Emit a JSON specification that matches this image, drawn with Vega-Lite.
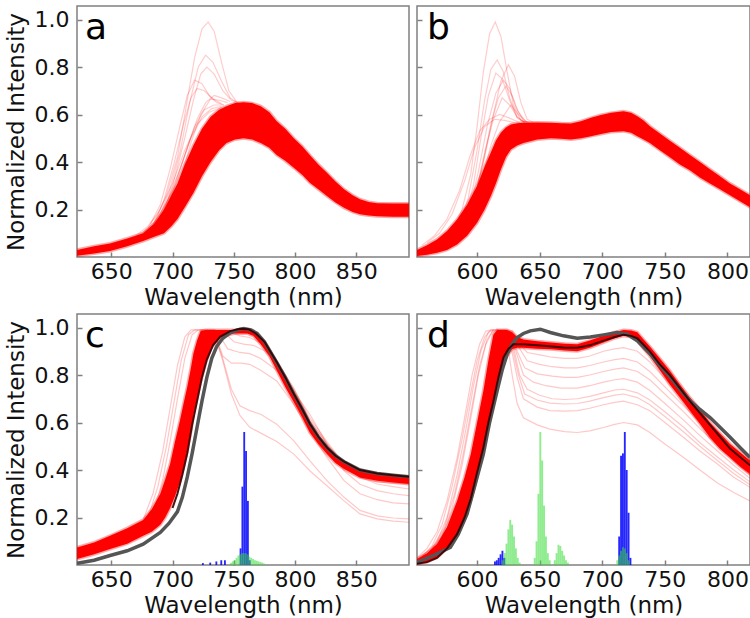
{
"$schema":"https://vega.github.io/schema/vega-lite/v6.json",
"autosize":{"type":"pad"},
"padding":{"left":4,"top":5,"right":0,"bottom":0},
"background":"white",
"config":{
 "view":{"stroke":"#808080","strokeWidth":1.5},
 "axis":{"grid":false,"domain":false,"tickColor":"#808080","tickSize":-5,"tickWidth":1.5,"labelFont":"DejaVu Sans","labelFontSize":22,"labelColor":"#111111","titleFont":"DejaVu Sans","titleFontSize":23,"titleFontWeight":"normal","titleColor":"#111111","labelOverlap":false,"labelFlush":false},
 "axisX":{"labelPadding":9,"titlePadding":4},
 "axisY":{"labelPadding":13,"titlePadding":6}
},
"columns":2,
"spacing":{"row":57,"column":8},
"bounds":"flush",
"concat":[
{"width":332,"height":251,
 "encoding":{
  "x":{"field":"x","type":"quantitative","scale":{"domain":[622,893],"nice":false,"zero":false},"axis":{"values":[650,700,750,800,850],"format":"d","title":"Wavelength (nm)"}},
  "y":{"field":"y","type":"quantitative","scale":{"domain":[0,1.057],"nice":false,"zero":false},"axis":{"values":[0.2,0.4,0.6,0.8,1.0],"format":".1f","title":"Normalized Intensity"}}},
 "layer":[
  {"data":{"values":[
   {"x":622,"y":0.005,"y2":0.03},{"x":636,"y":0.015,"y2":0.045},{"x":649,"y":0.025,"y2":0.057},{"x":663,"y":0.045,"y2":0.078},{"x":676,"y":0.067,"y2":0.10},{"x":685,"y":0.085,"y2":0.14},{"x":693,"y":0.10,"y2":0.20},{"x":699,"y":0.13,"y2":0.26},{"x":704,"y":0.16,"y2":0.31},{"x":710,"y":0.21,"y2":0.39},{"x":717,"y":0.27,"y2":0.47},{"x":724,"y":0.34,"y2":0.54},{"x":731,"y":0.40,"y2":0.59},{"x":738,"y":0.45,"y2":0.62},{"x":744,"y":0.48,"y2":0.635},{"x":751,"y":0.495,"y2":0.648},{"x":758,"y":0.50,"y2":0.652},{"x":765,"y":0.495,"y2":0.648},{"x":772,"y":0.48,"y2":0.635},{"x":779,"y":0.46,"y2":0.61},{"x":785,"y":0.43,"y2":0.572},{"x":792,"y":0.405,"y2":0.54},{"x":799,"y":0.376,"y2":0.50},{"x":806,"y":0.345,"y2":0.465},{"x":812,"y":0.313,"y2":0.43},{"x":819,"y":0.285,"y2":0.39},{"x":826,"y":0.257,"y2":0.355},{"x":833,"y":0.23,"y2":0.318},{"x":840,"y":0.207,"y2":0.285},{"x":847,"y":0.19,"y2":0.26},{"x":853,"y":0.18,"y2":0.243},{"x":860,"y":0.175,"y2":0.232},{"x":867,"y":0.172,"y2":0.226},{"x":880,"y":0.17,"y2":0.225},{"x":893,"y":0.17,"y2":0.225}]},
   "mark":{"type":"area","color":"#ff0000","opacity":1,"stroke":"#ff0000","strokeWidth":3,"strokeOpacity":0.35,"clip":true},"encoding":{"y2":{"field":"y2"}}},
  {"data":{"values":[
   {"s":"a1","x":682,"y":0.14},{"s":"a1","x":688,"y":0.18},{"s":"a1","x":695,"y":0.26},{"s":"a1","x":704,"y":0.42},{"s":"a1","x":712,"y":0.66},{"s":"a1","x":718,"y":0.84},{"s":"a1","x":724,"y":0.96},{"s":"a1","x":729,"y":0.99},{"s":"a1","x":734,"y":0.95},{"s":"a1","x":740,"y":0.82},{"s":"a1","x":746,"y":0.70},{"s":"a1","x":752,"y":0.655},
   {"s":"a2","x":684,"y":0.14},{"s":"a2","x":690,"y":0.18},{"s":"a2","x":697,"y":0.27},{"s":"a2","x":706,"y":0.44},{"s":"a2","x":714,"y":0.65},{"s":"a2","x":721,"y":0.8},{"s":"a2","x":727,"y":0.85},{"s":"a2","x":733,"y":0.82},{"s":"a2","x":740,"y":0.74},{"s":"a2","x":747,"y":0.67},{"s":"a2","x":753,"y":0.65},
   {"s":"a3","x":686,"y":0.14},{"s":"a3","x":692,"y":0.18},{"s":"a3","x":700,"y":0.3},{"s":"a3","x":709,"y":0.48},{"s":"a3","x":717,"y":0.66},{"s":"a3","x":723,"y":0.77},{"s":"a3","x":728,"y":0.80},{"s":"a3","x":734,"y":0.77},{"s":"a3","x":741,"y":0.70},{"s":"a3","x":748,"y":0.66},{"s":"a3","x":754,"y":0.65},
   {"s":"a4","x":672,"y":0.09},{"s":"a4","x":680,"y":0.12},{"s":"a4","x":690,"y":0.22},{"s":"a4","x":698,"y":0.37},{"s":"a4","x":706,"y":0.55},{"s":"a4","x":712,"y":0.68},{"s":"a4","x":718,"y":0.745},{"s":"a4","x":724,"y":0.73},{"s":"a4","x":730,"y":0.68},{"s":"a4","x":736,"y":0.65},{"s":"a4","x":742,"y":0.64},
   {"s":"a5","x":674,"y":0.09},{"s":"a5","x":683,"y":0.12},{"s":"a5","x":693,"y":0.24},{"s":"a5","x":701,"y":0.39},{"s":"a5","x":709,"y":0.56},{"s":"a5","x":715,"y":0.67},{"s":"a5","x":720,"y":0.71},{"s":"a5","x":726,"y":0.70},{"s":"a5","x":732,"y":0.67},{"s":"a5","x":740,"y":0.645},
   {"s":"a6","x":684,"y":0.12},{"s":"a6","x":692,"y":0.15},{"s":"a6","x":702,"y":0.3},{"s":"a6","x":712,"y":0.46},{"s":"a6","x":720,"y":0.58},{"s":"a6","x":727,"y":0.65},{"s":"a6","x":734,"y":0.68},{"s":"a6","x":740,"y":0.67},{"s":"a6","x":747,"y":0.655},
   {"s":"a7","x":688,"y":0.13},{"s":"a7","x":696,"y":0.18},{"s":"a7","x":706,"y":0.32},{"s":"a7","x":715,"y":0.48},{"s":"a7","x":723,"y":0.6},{"s":"a7","x":731,"y":0.665},{"s":"a7","x":738,"y":0.66},{"s":"a7","x":745,"y":0.65},
   {"s":"a8","x":680,"y":0.11},{"s":"a8","x":690,"y":0.17},{"s":"a8","x":700,"y":0.28},{"s":"a8","x":710,"y":0.43},{"s":"a8","x":718,"y":0.55},{"s":"a8","x":726,"y":0.62},{"s":"a8","x":734,"y":0.64},{"s":"a8","x":742,"y":0.64},
   {"s":"a9","x":676,"y":0.1},{"s":"a9","x":686,"y":0.15},{"s":"a9","x":696,"y":0.24},{"s":"a9","x":706,"y":0.37},{"s":"a9","x":715,"y":0.5},{"s":"a9","x":724,"y":0.59},{"s":"a9","x":732,"y":0.625},{"s":"a9","x":740,"y":0.635},
   {"s":"a10","x":670,"y":0.09},{"s":"a10","x":680,"y":0.13},{"s":"a10","x":690,"y":0.2},{"s":"a10","x":700,"y":0.31},{"s":"a10","x":710,"y":0.45},{"s":"a10","x":720,"y":0.56},{"s":"a10","x":730,"y":0.61},{"s":"a10","x":740,"y":0.63}]},
   "mark":{"type":"line","color":"#ff0000","opacity":0.2,"strokeWidth":1.2,"clip":true},"encoding":{"detail":{"field":"s","type":"nominal"}}},
  {"data":{"values":[{"t":"a","x":628.5,"y":0.916}]},"mark":{"type":"text","align":"left","baseline":"alphabetic","fontSize":36,"font":"DejaVu Sans","color":"#000000"},"encoding":{"text":{"field":"t"}}}
 ]},
{"width":333,"height":251,
 "encoding":{
  "x":{"field":"x","type":"quantitative","scale":{"domain":[552,818],"nice":false,"zero":false},"axis":{"values":[600,650,700,750,800],"format":"d","title":"Wavelength (nm)"}},
  "y":{"field":"y","type":"quantitative","scale":{"domain":[0,1.057],"nice":false,"zero":false},"axis":{"values":[0.2,0.4,0.6,0.8,1.0],"labels":false,"title":null}}},
 "layer":[
  {"data":{"values":[
   {"x":552,"y":0.004,"y2":0.03},{"x":560,"y":0.01,"y2":0.05},{"x":568,"y":0.018,"y2":0.074},{"x":576,"y":0.03,"y2":0.11},{"x":584,"y":0.053,"y2":0.158},{"x":592,"y":0.09,"y2":0.22},{"x":600,"y":0.144,"y2":0.30},{"x":606,"y":0.2,"y2":0.38},{"x":611,"y":0.257,"y2":0.44},{"x":615,"y":0.31,"y2":0.49},{"x":619,"y":0.369,"y2":0.523},{"x":623,"y":0.42,"y2":0.545},{"x":627,"y":0.453,"y2":0.558},{"x":632,"y":0.47,"y2":0.563},{"x":637,"y":0.48,"y2":0.565},{"x":648,"y":0.495,"y2":0.566},{"x":659,"y":0.50,"y2":0.565},{"x":667,"y":0.498,"y2":0.563},{"x":675,"y":0.495,"y2":0.562},{"x":683,"y":0.50,"y2":0.572},{"x":691,"y":0.509,"y2":0.586},{"x":699,"y":0.518,"y2":0.598},{"x":707,"y":0.526,"y2":0.607},{"x":717,"y":0.53,"y2":0.614},{"x":723,"y":0.523,"y2":0.607},{"x":728,"y":0.509,"y2":0.593},{"x":733,"y":0.495,"y2":0.575},{"x":738,"y":0.48,"y2":0.551},{"x":746,"y":0.45,"y2":0.52},{"x":754,"y":0.42,"y2":0.49},{"x":762,"y":0.39,"y2":0.46},{"x":770,"y":0.365,"y2":0.43},{"x":778,"y":0.335,"y2":0.40},{"x":786,"y":0.31,"y2":0.37},{"x":794,"y":0.285,"y2":0.34},{"x":802,"y":0.26,"y2":0.31},{"x":810,"y":0.235,"y2":0.285},{"x":818,"y":0.21,"y2":0.26}]},
   "mark":{"type":"area","color":"#ff0000","opacity":1,"stroke":"#ff0000","strokeWidth":3,"strokeOpacity":0.35,"clip":true},"encoding":{"y2":{"field":"y2"}}},
  {"data":{"values":[
   {"s":"b1","x":580,"y":0.1},{"s":"b1","x":588,"y":0.2},{"s":"b1","x":595,"y":0.35},{"s":"b1","x":600,"y":0.55},{"s":"b1","x":605,"y":0.78},{"s":"b1","x":610,"y":0.94},{"s":"b1","x":614.5,"y":0.99},{"s":"b1","x":619,"y":0.93},{"s":"b1","x":624,"y":0.78},{"s":"b1","x":629,"y":0.64},{"s":"b1","x":635,"y":0.575},{"s":"b1","x":641,"y":0.566},
   {"s":"b2","x":585,"y":0.12},{"s":"b2","x":593,"y":0.25},{"s":"b2","x":600,"y":0.45},{"s":"b2","x":606,"y":0.66},{"s":"b2","x":611,"y":0.79},{"s":"b2","x":616,"y":0.83},{"s":"b2","x":621,"y":0.78},{"s":"b2","x":626,"y":0.67},{"s":"b2","x":632,"y":0.59},{"s":"b2","x":638,"y":0.566},
   {"s":"b3","x":598,"y":0.25},{"s":"b3","x":606,"y":0.42},{"s":"b3","x":613,"y":0.6},{"s":"b3","x":619,"y":0.74},{"s":"b3","x":625,"y":0.81},{"s":"b3","x":630,"y":0.76},{"s":"b3","x":635,"y":0.65},{"s":"b3","x":640,"y":0.58},{"s":"b3","x":645,"y":0.566},
   {"s":"b4","x":590,"y":0.16},{"s":"b4","x":597,"y":0.3},{"s":"b4","x":603,"y":0.5},{"s":"b4","x":609,"y":0.68},{"s":"b4","x":615,"y":0.775},{"s":"b4","x":620,"y":0.75},{"s":"b4","x":626,"y":0.66},{"s":"b4","x":632,"y":0.585},{"s":"b4","x":638,"y":0.566},
   {"s":"b5","x":594,"y":0.2},{"s":"b5","x":601,"y":0.36},{"s":"b5","x":608,"y":0.55},{"s":"b5","x":615,"y":0.69},{"s":"b5","x":621,"y":0.745},{"s":"b5","x":626,"y":0.71},{"s":"b5","x":631,"y":0.63},{"s":"b5","x":637,"y":0.575},{"s":"b5","x":642,"y":0.566},
   {"s":"b6","x":597,"y":0.22},{"s":"b6","x":604,"y":0.38},{"s":"b6","x":611,"y":0.56},{"s":"b6","x":617,"y":0.67},{"s":"b6","x":623,"y":0.72},{"s":"b6","x":628,"y":0.68},{"s":"b6","x":633,"y":0.61},{"s":"b6","x":639,"y":0.57},
   {"s":"b7","x":600,"y":0.3},{"s":"b7","x":607,"y":0.46},{"s":"b7","x":613,"y":0.58},{"s":"b7","x":620,"y":0.67},{"s":"b7","x":626,"y":0.64},{"s":"b7","x":632,"y":0.59},{"s":"b7","x":638,"y":0.567},
   {"s":"b8","x":604,"y":0.33},{"s":"b8","x":611,"y":0.47},{"s":"b8","x":618,"y":0.57},{"s":"b8","x":627,"y":0.64},{"s":"b8","x":633,"y":0.6},{"s":"b8","x":640,"y":0.567},
   {"s":"b9","x":560,"y":0.06},{"s":"b9","x":570,"y":0.1},{"s":"b9","x":580,"y":0.18},{"s":"b9","x":590,"y":0.32},{"s":"b9","x":598,"y":0.46},{"s":"b9","x":606,"y":0.55},{"s":"b9","x":614,"y":0.58},{"s":"b9","x":622,"y":0.575},{"s":"b9","x":630,"y":0.566},
   {"s":"b10","x":556,"y":0.05},{"s":"b10","x":566,"y":0.09},{"s":"b10","x":576,"y":0.16},{"s":"b10","x":586,"y":0.28},{"s":"b10","x":594,"y":0.42},{"s":"b10","x":602,"y":0.53},{"s":"b10","x":610,"y":0.58},{"s":"b10","x":618,"y":0.6},{"s":"b10","x":626,"y":0.585},{"s":"b10","x":634,"y":0.566}]},
   "mark":{"type":"line","color":"#ff0000","opacity":0.2,"strokeWidth":1.2,"clip":true},"encoding":{"detail":{"field":"s","type":"nominal"}}},
  {"data":{"values":[{"t":"b","x":560,"y":0.916}]},"mark":{"type":"text","align":"left","baseline":"alphabetic","fontSize":36,"font":"DejaVu Sans","color":"#000000"},"encoding":{"text":{"field":"t"}}}
 ]},
{"width":332,"height":251,
 "encoding":{
  "x":{"field":"x","type":"quantitative","scale":{"domain":[622,893],"nice":false,"zero":false},"axis":{"values":[650,700,750,800,850],"format":"d","title":"Wavelength (nm)"}},
  "y":{"field":"y","type":"quantitative","scale":{"domain":[0,1.057],"nice":false,"zero":false},"axis":{"values":[0.2,0.4,0.6,0.8,1.0],"format":".1f","title":"Normalized Intensity"}}},
 "layer":[
  {"data":{"values":[
   {"x":622,"y":0.025,"y2":0.074},{"x":636,"y":0.045,"y2":0.095},{"x":649,"y":0.067,"y2":0.123},{"x":663,"y":0.09,"y2":0.155},{"x":676,"y":0.123,"y2":0.19},{"x":683,"y":0.14,"y2":0.235},{"x":690,"y":0.17,"y2":0.30},{"x":694,"y":0.2,"y2":0.36},{"x":698,"y":0.24,"y2":0.425},{"x":702,"y":0.29,"y2":0.52},{"x":706,"y":0.35,"y2":0.607},{"x":709,"y":0.41,"y2":0.68},{"x":712,"y":0.48,"y2":0.75},{"x":715,"y":0.56,"y2":0.83},{"x":717,"y":0.63,"y2":0.89},{"x":720,"y":0.70,"y2":0.945},{"x":723,"y":0.77,"y2":0.986},{"x":727,"y":0.85,"y2":0.99},{"x":731,"y":0.91,"y2":0.99},{"x":739,"y":0.96,"y2":0.99},{"x":750,"y":0.975,"y2":0.99},{"x":761,"y":0.975,"y2":0.993},{"x":766,"y":0.965,"y2":0.985},{"x":772,"y":0.93,"y2":0.955},{"x":779,"y":0.88,"y2":0.905},{"x":785,"y":0.82,"y2":0.846},{"x":792,"y":0.75,"y2":0.785},{"x":799,"y":0.685,"y2":0.72},{"x":806,"y":0.62,"y2":0.655},{"x":812,"y":0.558,"y2":0.593},{"x":819,"y":0.51,"y2":0.54},{"x":826,"y":0.467,"y2":0.495},{"x":833,"y":0.43,"y2":0.46},{"x":840,"y":0.404,"y2":0.432},{"x":847,"y":0.385,"y2":0.412},{"x":853,"y":0.369,"y2":0.397},{"x":867,"y":0.355,"y2":0.383},{"x":880,"y":0.347,"y2":0.375},{"x":893,"y":0.341,"y2":0.369}]},
   "mark":{"type":"area","color":"#ff0000","opacity":1,"stroke":"#ff0000","strokeWidth":3,"strokeOpacity":0.35,"clip":true},"encoding":{"y2":{"field":"y2"}}},
  {"data":{"values":[
   {"s":"c1","x":676,"y":0.19},{"s":"c1","x":684,"y":0.3},{"s":"c1","x":692,"y":0.48},{"s":"c1","x":698,"y":0.66},{"s":"c1","x":704,"y":0.84},{"s":"c1","x":710,"y":0.96},{"s":"c1","x":715,"y":0.99},{"s":"c1","x":735,"y":0.99},
   {"s":"c2","x":680,"y":0.2},{"s":"c2","x":688,"y":0.33},{"s":"c2","x":695,"y":0.5},{"s":"c2","x":701,"y":0.68},{"s":"c2","x":707,"y":0.86},{"s":"c2","x":713,"y":0.97},{"s":"c2","x":718,"y":0.99},{"s":"c2","x":735,"y":0.99},
   {"s":"c3","x":684,"y":0.21},{"s":"c3","x":692,"y":0.36},{"s":"c3","x":698,"y":0.52},{"s":"c3","x":704,"y":0.7},{"s":"c3","x":710,"y":0.87},{"s":"c3","x":716,"y":0.97},{"s":"c3","x":721,"y":0.99},
   {"s":"f1","x":728,"y":0.99},{"s":"f1","x":735,"y":0.96},{"s":"f1","x":741,"y":0.86},{"s":"f1","x":748,"y":0.72},{"s":"f1","x":755,"y":0.63},{"s":"f1","x":763,"y":0.58},{"s":"f1","x":774,"y":0.55},{"s":"f1","x":785,"y":0.52},{"s":"f1","x":799,"y":0.467},{"s":"f1","x":812,"y":0.397},{"s":"f1","x":826,"y":0.334},{"s":"f1","x":840,"y":0.27},{"s":"f1","x":853,"y":0.215},{"s":"f1","x":867,"y":0.194},{"s":"f1","x":880,"y":0.185},{"s":"f1","x":893,"y":0.18},
   {"s":"f2","x":728,"y":0.99},{"s":"f2","x":735,"y":0.96},{"s":"f2","x":741,"y":0.87},{"s":"f2","x":748,"y":0.74},{"s":"f2","x":755,"y":0.67},{"s":"f2","x":763,"y":0.65},{"s":"f2","x":772,"y":0.635},{"s":"f2","x":785,"y":0.593},{"s":"f2","x":799,"y":0.523},{"s":"f2","x":812,"y":0.44},{"s":"f2","x":826,"y":0.355},{"s":"f2","x":840,"y":0.285},{"s":"f2","x":853,"y":0.23},{"s":"f2","x":867,"y":0.207},{"s":"f2","x":880,"y":0.198},{"s":"f2","x":893,"y":0.194},
   {"s":"f3","x":735,"y":0.97},{"s":"f3","x":741,"y":0.88},{"s":"f3","x":748,"y":0.85},{"s":"f3","x":756,"y":0.85},{"s":"f3","x":763,"y":0.845},{"s":"f3","x":772,"y":0.82},{"s":"f3","x":785,"y":0.775},{"s":"f3","x":799,"y":0.677},{"s":"f3","x":812,"y":0.565},{"s":"f3","x":826,"y":0.453},{"s":"f3","x":840,"y":0.355},{"s":"f3","x":853,"y":0.30},{"s":"f3","x":867,"y":0.275},{"s":"f3","x":880,"y":0.262},{"s":"f3","x":893,"y":0.257},
   {"s":"f4","x":738,"y":0.97},{"s":"f4","x":745,"y":0.91},{"s":"f4","x":755,"y":0.895},{"s":"f4","x":763,"y":0.89},{"s":"f4","x":772,"y":0.87},{"s":"f4","x":785,"y":0.82},{"s":"f4","x":799,"y":0.73},{"s":"f4","x":812,"y":0.635},{"s":"f4","x":826,"y":0.51},{"s":"f4","x":840,"y":0.397},{"s":"f4","x":853,"y":0.34},{"s":"f4","x":867,"y":0.313},{"s":"f4","x":880,"y":0.3},{"s":"f4","x":893,"y":0.292},
   {"s":"f5","x":742,"y":0.98},{"s":"f5","x":750,"y":0.94},{"s":"f5","x":758,"y":0.93},{"s":"f5","x":766,"y":0.925},{"s":"f5","x":776,"y":0.9},{"s":"f5","x":785,"y":0.846},{"s":"f5","x":799,"y":0.74},{"s":"f5","x":812,"y":0.62},{"s":"f5","x":826,"y":0.52},{"s":"f5","x":840,"y":0.425},{"s":"f5","x":853,"y":0.37},{"s":"f5","x":867,"y":0.341},{"s":"f5","x":880,"y":0.33},{"s":"f5","x":893,"y":0.32},
   {"s":"f6","x":745,"y":0.985},{"s":"f6","x":755,"y":0.965},{"s":"f6","x":763,"y":0.958},{"s":"f6","x":772,"y":0.935},{"s":"f6","x":785,"y":0.86},{"s":"f6","x":799,"y":0.745},{"s":"f6","x":812,"y":0.607},{"s":"f6","x":826,"y":0.51},{"s":"f6","x":840,"y":0.418},{"s":"f6","x":853,"y":0.37},{"s":"f6","x":867,"y":0.35},{"s":"f6","x":893,"y":0.341},
   {"s":"f7","x":750,"y":0.985},{"s":"f7","x":763,"y":0.975},{"s":"f7","x":772,"y":0.945},{"s":"f7","x":785,"y":0.855},{"s":"f7","x":799,"y":0.735},{"s":"f7","x":812,"y":0.61},{"s":"f7","x":826,"y":0.51},{"s":"f7","x":840,"y":0.43},{"s":"f7","x":853,"y":0.385},{"s":"f7","x":867,"y":0.362},{"s":"f7","x":893,"y":0.35}]},
   "mark":{"type":"line","color":"#ff0000","opacity":0.22,"strokeWidth":1.2,"clip":true},"encoding":{"detail":{"field":"s","type":"nominal"}}},
  {"data":{"values":[
   {"x":622,"y":0.007},{"x":636,"y":0.02},{"x":649,"y":0.04},{"x":663,"y":0.06},{"x":676,"y":0.088},{"x":690,"y":0.137},{"x":697,"y":0.175},{"x":704,"y":0.225},{"x":708,"y":0.285},{"x":712,"y":0.37},{"x":716,"y":0.47},{"x":720,"y":0.58},{"x":724,"y":0.69},{"x":728,"y":0.79},{"x":732,"y":0.87},{"x":736,"y":0.92},{"x":741,"y":0.955},{"x":747,"y":0.978},{"x":753,"y":0.99},{"x":758,"y":0.996},{"x":764,"y":0.99},{"x":769,"y":0.975},{"x":775,"y":0.94},{"x":785,"y":0.853},{"x":792,"y":0.79},{"x":799,"y":0.72},{"x":806,"y":0.655},{"x":812,"y":0.595},{"x":819,"y":0.54},{"x":826,"y":0.495},{"x":833,"y":0.46},{"x":840,"y":0.435},{"x":853,"y":0.4},{"x":867,"y":0.385},{"x":880,"y":0.378},{"x":893,"y":0.372}]},
   "mark":{"type":"line","color":"#555555","strokeWidth":3.5,"clip":true}},
  {"data":{"values":[
   {"x":700,"y":0.24},{"x":704,"y":0.3},{"x":708,"y":0.38},{"x":712,"y":0.47},{"x":716,"y":0.59},{"x":720,"y":0.69},{"x":724,"y":0.79},{"x":728,"y":0.865},{"x":733,"y":0.925},{"x":739,"y":0.962},{"x":747,"y":0.985},{"x":755,"y":0.995},{"x":762,"y":0.993},{"x":768,"y":0.975},{"x":775,"y":0.94},{"x":785,"y":0.855},{"x":792,"y":0.79},{"x":799,"y":0.72},{"x":806,"y":0.655},{"x":812,"y":0.595},{"x":819,"y":0.54},{"x":826,"y":0.495},{"x":833,"y":0.46},{"x":840,"y":0.435},{"x":853,"y":0.4},{"x":867,"y":0.385},{"x":880,"y":0.378},{"x":893,"y":0.372}]},
   "mark":{"type":"line","color":"#330000","strokeWidth":2,"opacity":0.9,"clip":true}},
  {"data":{"values":[
   {"x":724,"x2":725.5,"y":0.008},{"x":730,"x2":731.5,"y":0.01},{"x":735,"x2":736.5,"y":0.015},{"x":739,"x2":740.5,"y":0.02},{"x":742,"x2":743.5,"y":0.02},
   {"x":754.75,"x2":756.25,"y":0.07},{"x":756.25,"x2":757.75,"y":0.33},{"x":757.75,"x2":759.25,"y":0.56},{"x":759.25,"x2":760.75,"y":0.48},{"x":760.75,"x2":762.25,"y":0.27},{"x":762.25,"x2":763.75,"y":0.02}]},
   "mark":{"type":"bar","color":"#0000ff","opacity":0.85,"clip":true},"encoding":{"x2":{"field":"x2"},"y2":{"datum":0}}},
  {"data":{"values":[
   {"x":747,"x2":748.5,"y":0.01},{"x":748.5,"x2":750,"y":0.015},{"x":750,"x2":751.5,"y":0.02},{"x":751.5,"x2":753,"y":0.03},{"x":753,"x2":754.5,"y":0.04},{"x":754.5,"x2":756,"y":0.045},{"x":756,"x2":757.5,"y":0.05},{"x":757.5,"x2":759,"y":0.05},{"x":759,"x2":760.5,"y":0.05},{"x":760.5,"x2":762,"y":0.045},{"x":762,"x2":763.5,"y":0.035},{"x":763.5,"x2":765,"y":0.03},{"x":765,"x2":766.5,"y":0.025},{"x":766.5,"x2":768,"y":0.02},{"x":768,"x2":769.5,"y":0.018},{"x":769.5,"x2":771,"y":0.015},{"x":771,"x2":772.5,"y":0.012},{"x":772.5,"x2":774,"y":0.01},{"x":774,"x2":775.5,"y":0.006}]},
   "mark":{"type":"bar","color":"#33dd33","opacity":0.55,"clip":true},"encoding":{"x2":{"field":"x2"},"y2":{"datum":0}}},
  {"data":{"values":[{"t":"c","x":628.5,"y":0.916}]},"mark":{"type":"text","align":"left","baseline":"alphabetic","fontSize":36,"font":"DejaVu Sans","color":"#000000"},"encoding":{"text":{"field":"t"}}}
 ]},
{"width":333,"height":251,
 "encoding":{
  "x":{"field":"x","type":"quantitative","scale":{"domain":[552,818],"nice":false,"zero":false},"axis":{"values":[600,650,700,750,800],"format":"d","title":"Wavelength (nm)"}},
  "y":{"field":"y","type":"quantitative","scale":{"domain":[0,1.057],"nice":false,"zero":false},"axis":{"values":[0.2,0.4,0.6,0.8,1.0],"labels":false,"title":null}}},
 "layer":[
  {"data":{"values":[
   {"x":552,"y":0.004,"y2":0.025},{"x":560,"y":0.012,"y2":0.05},{"x":568,"y":0.032,"y2":0.088},{"x":576,"y":0.07,"y2":0.16},{"x":584,"y":0.13,"y2":0.27},{"x":590,"y":0.19,"y2":0.37},{"x":595,"y":0.27,"y2":0.467},{"x":600,"y":0.37,"y2":0.6},{"x":605,"y":0.495,"y2":0.733},{"x":609,"y":0.6,"y2":0.86},{"x":613,"y":0.69,"y2":0.97},{"x":616,"y":0.77,"y2":0.99},{"x":619,"y":0.83,"y2":0.99},{"x":624,"y":0.88,"y2":0.99},{"x":628,"y":0.91,"y2":0.98},{"x":632,"y":0.915,"y2":0.96},{"x":637,"y":0.915,"y2":0.95},{"x":648,"y":0.911,"y2":0.942},{"x":659,"y":0.909,"y2":0.937},{"x":670,"y":0.903,"y2":0.932},{"x":680,"y":0.90,"y2":0.93},{"x":690,"y":0.915,"y2":0.945},{"x":701,"y":0.937,"y2":0.965},{"x":710,"y":0.955,"y2":0.98},{"x":717,"y":0.965,"y2":0.99},{"x":723,"y":0.96,"y2":0.988},{"x":728,"y":0.944,"y2":0.98},{"x":733,"y":0.91,"y2":0.95},{"x":738,"y":0.88,"y2":0.92},{"x":746,"y":0.82,"y2":0.87},{"x":754,"y":0.76,"y2":0.818},{"x":762,"y":0.705,"y2":0.76},{"x":770,"y":0.65,"y2":0.705},{"x":778,"y":0.595,"y2":0.655},{"x":786,"y":0.537,"y2":0.6},{"x":794,"y":0.49,"y2":0.555},{"x":802,"y":0.453,"y2":0.51},{"x":810,"y":0.415,"y2":0.475},{"x":818,"y":0.383,"y2":0.44}]},
   "mark":{"type":"area","color":"#ff0000","opacity":1,"stroke":"#ff0000","strokeWidth":3,"strokeOpacity":0.35,"clip":true},"encoding":{"y2":{"field":"y2"}}},
  {"data":{"values":[
   {"s":"l1","x":552,"y":0.03},{"s":"l1","x":560,"y":0.07},{"s":"l1","x":568,"y":0.14},{"s":"l1","x":576,"y":0.27},{"s":"l1","x":584,"y":0.45},{"s":"l1","x":590,"y":0.62},{"s":"l1","x":596,"y":0.8},{"s":"l1","x":602,"y":0.93},{"s":"l1","x":607,"y":0.985},{"s":"l1","x":612,"y":0.99},{"s":"l1","x":622,"y":0.99},{"s":"l1","x":628,"y":0.96},
   {"s":"l2","x":556,"y":0.035},{"s":"l2","x":564,"y":0.08},{"s":"l2","x":572,"y":0.17},{"s":"l2","x":580,"y":0.33},{"s":"l2","x":588,"y":0.53},{"s":"l2","x":594,"y":0.7},{"s":"l2","x":600,"y":0.86},{"s":"l2","x":606,"y":0.96},{"s":"l2","x":611,"y":0.99},{"s":"l2","x":624,"y":0.99},
   {"s":"l3","x":560,"y":0.04},{"s":"l3","x":568,"y":0.1},{"s":"l3","x":576,"y":0.2},{"s":"l3","x":584,"y":0.38},{"s":"l3","x":591,"y":0.57},{"s":"l3","x":597,"y":0.75},{"s":"l3","x":603,"y":0.9},{"s":"l3","x":609,"y":0.98},{"s":"l3","x":614,"y":0.99},
   {"s":"l4","x":552,"y":0.02},{"s":"l4","x":562,"y":0.05},{"s":"l4","x":572,"y":0.12},{"s":"l4","x":580,"y":0.24},{"s":"l4","x":588,"y":0.42},{"s":"l4","x":595,"y":0.62},{"s":"l4","x":601,"y":0.8},{"s":"l4","x":607,"y":0.93},{"s":"l4","x":612,"y":0.98},{"s":"l4","x":617,"y":0.99},
   {"s":"l5","x":552,"y":0.025},{"s":"l5","x":564,"y":0.07},{"s":"l5","x":574,"y":0.16},{"s":"l5","x":582,"y":0.3},{"s":"l5","x":589,"y":0.47},{"s":"l5","x":596,"y":0.67},{"s":"l5","x":602,"y":0.84},{"s":"l5","x":608,"y":0.95},{"s":"l5","x":613,"y":0.99},
   {"s":"d1","x":619,"y":0.99},{"s":"d1","x":624,"y":0.94},{"s":"d1","x":628,"y":0.8},{"s":"d1","x":632,"y":0.68},{"s":"d1","x":637,"y":0.62},{"s":"d1","x":648,"y":0.59},{"s":"d1","x":658,"y":0.572},{"s":"d1","x":670,"y":0.562},{"s":"d1","x":680,"y":0.558},{"s":"d1","x":690,"y":0.565},{"s":"d1","x":701,"y":0.579},{"s":"d1","x":710,"y":0.592},{"s":"d1","x":717,"y":0.6},{"s":"d1","x":728,"y":0.59},{"s":"d1","x":738,"y":0.558},{"s":"d1","x":750,"y":0.51},{"s":"d1","x":765,"y":0.453},{"s":"d1","x":778,"y":0.4},{"s":"d1","x":792,"y":0.345},{"s":"d1","x":805,"y":0.305},{"s":"d1","x":818,"y":0.27},
   {"s":"d2","x":622,"y":0.99},{"s":"d2","x":627,"y":0.92},{"s":"d2","x":632,"y":0.79},{"s":"d2","x":637,"y":0.70},{"s":"d2","x":648,"y":0.665},{"s":"d2","x":658,"y":0.65},{"s":"d2","x":670,"y":0.648},{"s":"d2","x":680,"y":0.65},{"s":"d2","x":690,"y":0.66},{"s":"d2","x":701,"y":0.675},{"s":"d2","x":710,"y":0.685},{"s":"d2","x":717,"y":0.69},{"s":"d2","x":728,"y":0.675},{"s":"d2","x":738,"y":0.65},{"s":"d2","x":750,"y":0.6},{"s":"d2","x":765,"y":0.537},{"s":"d2","x":778,"y":0.48},{"s":"d2","x":792,"y":0.425},{"s":"d2","x":805,"y":0.37},{"s":"d2","x":818,"y":0.327},
   {"s":"d8","x":623,"y":0.99},{"s":"d8","x":628,"y":0.92},{"s":"d8","x":633,"y":0.8},{"s":"d8","x":638,"y":0.72},{"s":"d8","x":648,"y":0.695},{"s":"d8","x":658,"y":0.682},{"s":"d8","x":670,"y":0.678},{"s":"d8","x":680,"y":0.68},{"s":"d8","x":690,"y":0.69},{"s":"d8","x":701,"y":0.705},{"s":"d8","x":710,"y":0.715},{"s":"d8","x":717,"y":0.72},{"s":"d8","x":728,"y":0.705},{"s":"d8","x":738,"y":0.675},{"s":"d8","x":750,"y":0.625},{"s":"d8","x":765,"y":0.56},{"s":"d8","x":778,"y":0.5},{"s":"d8","x":792,"y":0.44},{"s":"d8","x":805,"y":0.385},{"s":"d8","x":818,"y":0.338},
   {"s":"d3","x":624,"y":0.99},{"s":"d3","x":629,"y":0.92},{"s":"d3","x":634,"y":0.8},{"s":"d3","x":640,"y":0.74},{"s":"d3","x":650,"y":0.715},{"s":"d3","x":660,"y":0.70},{"s":"d3","x":670,"y":0.697},{"s":"d3","x":680,"y":0.70},{"s":"d3","x":690,"y":0.71},{"s":"d3","x":701,"y":0.725},{"s":"d3","x":710,"y":0.737},{"s":"d3","x":717,"y":0.74},{"s":"d3","x":728,"y":0.725},{"s":"d3","x":738,"y":0.695},{"s":"d3","x":750,"y":0.645},{"s":"d3","x":765,"y":0.58},{"s":"d3","x":778,"y":0.515},{"s":"d3","x":792,"y":0.455},{"s":"d3","x":805,"y":0.4},{"s":"d3","x":818,"y":0.35},
   {"s":"d4","x":625,"y":0.99},{"s":"d4","x":631,"y":0.9},{"s":"d4","x":637,"y":0.8},{"s":"d4","x":645,"y":0.77},{"s":"d4","x":655,"y":0.755},{"s":"d4","x":667,"y":0.745},{"s":"d4","x":680,"y":0.745},{"s":"d4","x":690,"y":0.755},{"s":"d4","x":701,"y":0.77},{"s":"d4","x":710,"y":0.78},{"s":"d4","x":717,"y":0.785},{"s":"d4","x":728,"y":0.77},{"s":"d4","x":738,"y":0.735},{"s":"d4","x":750,"y":0.68},{"s":"d4","x":765,"y":0.61},{"s":"d4","x":778,"y":0.545},{"s":"d4","x":792,"y":0.48},{"s":"d4","x":805,"y":0.42},{"s":"d4","x":818,"y":0.365},
   {"s":"d5","x":626,"y":0.99},{"s":"d5","x":632,"y":0.9},{"s":"d5","x":638,"y":0.83},{"s":"d5","x":648,"y":0.805},{"s":"d5","x":660,"y":0.795},{"s":"d5","x":670,"y":0.79},{"s":"d5","x":680,"y":0.79},{"s":"d5","x":690,"y":0.8},{"s":"d5","x":701,"y":0.815},{"s":"d5","x":710,"y":0.825},{"s":"d5","x":717,"y":0.83},{"s":"d5","x":728,"y":0.815},{"s":"d5","x":738,"y":0.78},{"s":"d5","x":750,"y":0.72},{"s":"d5","x":765,"y":0.645},{"s":"d5","x":778,"y":0.575},{"s":"d5","x":792,"y":0.505},{"s":"d5","x":805,"y":0.44},{"s":"d5","x":818,"y":0.38},
   {"s":"d6","x":627,"y":0.99},{"s":"d6","x":633,"y":0.92},{"s":"d6","x":640,"y":0.86},{"s":"d6","x":650,"y":0.845},{"s":"d6","x":660,"y":0.835},{"s":"d6","x":670,"y":0.83},{"s":"d6","x":680,"y":0.83},{"s":"d6","x":690,"y":0.84},{"s":"d6","x":701,"y":0.855},{"s":"d6","x":710,"y":0.865},{"s":"d6","x":717,"y":0.87},{"s":"d6","x":728,"y":0.855},{"s":"d6","x":738,"y":0.815},{"s":"d6","x":750,"y":0.75},{"s":"d6","x":765,"y":0.67},{"s":"d6","x":778,"y":0.6},{"s":"d6","x":792,"y":0.525},{"s":"d6","x":805,"y":0.46},{"s":"d6","x":818,"y":0.395},
   {"s":"d7","x":628,"y":0.99},{"s":"d7","x":634,"y":0.93},{"s":"d7","x":640,"y":0.895},{"s":"d7","x":650,"y":0.885},{"s":"d7","x":660,"y":0.875},{"s":"d7","x":670,"y":0.87},{"s":"d7","x":680,"y":0.87},{"s":"d7","x":690,"y":0.88},{"s":"d7","x":701,"y":0.9},{"s":"d7","x":710,"y":0.91},{"s":"d7","x":717,"y":0.915},{"s":"d7","x":728,"y":0.9},{"s":"d7","x":738,"y":0.855},{"s":"d7","x":750,"y":0.785},{"s":"d7","x":765,"y":0.7},{"s":"d7","x":778,"y":0.625},{"s":"d7","x":792,"y":0.545},{"s":"d7","x":805,"y":0.475},{"s":"d7","x":818,"y":0.41}]},
   "mark":{"type":"line","color":"#ff0000","opacity":0.22,"strokeWidth":1.2,"clip":true},"encoding":{"detail":{"field":"s","type":"nominal"}}},
  {"data":{"values":[
   {"x":552,"y":0.011},{"x":565,"y":0.04},{"x":578.6,"y":0.074},{"x":585,"y":0.13},{"x":592,"y":0.215},{"x":598,"y":0.33},{"x":605,"y":0.467},{"x":610,"y":0.6},{"x":616,"y":0.733},{"x":620,"y":0.82},{"x":624,"y":0.888},{"x":628,"y":0.93},{"x":632,"y":0.958},{"x":637,"y":0.975},{"x":642.5,"y":0.986},{"x":650.5,"y":0.993},{"x":658.5,"y":0.979},{"x":669,"y":0.965},{"x":680,"y":0.955},{"x":690.5,"y":0.96},{"x":701,"y":0.969},{"x":711.8,"y":0.979},{"x":719.8,"y":0.972},{"x":728,"y":0.944},{"x":738.4,"y":0.888},{"x":746,"y":0.84},{"x":754.4,"y":0.79},{"x":762,"y":0.74},{"x":770.4,"y":0.69},{"x":778,"y":0.655},{"x":786.3,"y":0.62},{"x":794,"y":0.58},{"x":802.3,"y":0.537},{"x":810,"y":0.495},{"x":818,"y":0.453}]},
   "mark":{"type":"line","color":"#555555","strokeWidth":3.5,"clip":true}},
  {"data":{"values":[
   {"x":552,"y":0.005},{"x":560,"y":0.012},{"x":568,"y":0.03},{"x":576,"y":0.07},{"x":584,"y":0.13},{"x":590,"y":0.2},{"x":595,"y":0.28},{"x":600,"y":0.39},{"x":605,"y":0.495},{"x":609,"y":0.6},{"x":613,"y":0.69},{"x":617,"y":0.79},{"x":621,"y":0.874},{"x":625,"y":0.91},{"x":629,"y":0.93},{"x":637,"y":0.93},{"x":648,"y":0.925},{"x":660,"y":0.92},{"x":670,"y":0.915},{"x":680,"y":0.915},{"x":690,"y":0.925},{"x":701,"y":0.945},{"x":710,"y":0.96},{"x":717,"y":0.97},{"x":723,"y":0.965},{"x":728,"y":0.955},{"x":738,"y":0.9},{"x":746,"y":0.845},{"x":754,"y":0.8},{"x":762,"y":0.745},{"x":770,"y":0.69},{"x":778,"y":0.64},{"x":786,"y":0.59},{"x":794,"y":0.54},{"x":802,"y":0.49},{"x":810,"y":0.455},{"x":818,"y":0.42}]},
   "mark":{"type":"line","color":"#330000","strokeWidth":2,"opacity":0.9,"clip":true}},
  {"data":{"values":[
   {"x":613.5,"x2":615,"y":0.015},{"x":615,"x2":616.5,"y":0.02},{"x":616.5,"x2":618,"y":0.03},{"x":618,"x2":619.5,"y":0.045},{"x":619.5,"x2":621,"y":0.06},{"x":621,"x2":622.5,"y":0.03},
   {"x":712.75,"x2":714.25,"y":0.12},{"x":714.25,"x2":715.75,"y":0.46},{"x":715.75,"x2":717.25,"y":0.47},{"x":717.25,"x2":718.75,"y":0.56},{"x":718.75,"x2":720.25,"y":0.4},{"x":720.25,"x2":721.75,"y":0.22},{"x":721.75,"x2":723.25,"y":0.03}]},
   "mark":{"type":"bar","color":"#0000ff","opacity":0.85,"clip":true},"encoding":{"x2":{"field":"x2"},"y2":{"datum":0}}},
  {"data":{"values":[
   {"x":619.75,"x2":621.25,"y":0.02},{"x":621.25,"x2":622.75,"y":0.05},{"x":622.75,"x2":624.25,"y":0.09},{"x":624.25,"x2":625.75,"y":0.15},{"x":625.75,"x2":627.25,"y":0.19},{"x":627.25,"x2":628.75,"y":0.17},{"x":628.75,"x2":630.25,"y":0.12},{"x":630.25,"x2":631.75,"y":0.07},{"x":631.75,"x2":633.25,"y":0.03},{"x":633.25,"x2":634.75,"y":0.01},
   {"x":645.25,"x2":646.75,"y":0.03},{"x":646.75,"x2":648.25,"y":0.1},{"x":648.25,"x2":649.75,"y":0.3},{"x":649.75,"x2":651.25,"y":0.56},{"x":651.25,"x2":652.75,"y":0.44},{"x":652.75,"x2":654.25,"y":0.25},{"x":654.25,"x2":655.75,"y":0.12},{"x":655.75,"x2":657.25,"y":0.05},{"x":657.25,"x2":658.75,"y":0.02},
   {"x":661.25,"x2":662.75,"y":0.02},{"x":662.75,"x2":664.25,"y":0.05},{"x":664.25,"x2":665.75,"y":0.085},{"x":665.75,"x2":667.25,"y":0.08},{"x":667.25,"x2":668.75,"y":0.06},{"x":668.75,"x2":670.25,"y":0.04},{"x":670.25,"x2":671.75,"y":0.02},{"x":671.75,"x2":673.25,"y":0.01},
   {"x":711.25,"x2":712.75,"y":0.02},{"x":712.75,"x2":714.25,"y":0.04},{"x":714.25,"x2":715.75,"y":0.06},{"x":715.75,"x2":717.25,"y":0.075},{"x":717.25,"x2":718.75,"y":0.07},{"x":718.75,"x2":720.25,"y":0.05},{"x":720.25,"x2":721.75,"y":0.02}]},
   "mark":{"type":"bar","color":"#33dd33","opacity":0.55,"clip":true},"encoding":{"x2":{"field":"x2"},"y2":{"datum":0}}},
  {"data":{"values":[{"t":"d","x":560,"y":0.916}]},"mark":{"type":"text","align":"left","baseline":"alphabetic","fontSize":36,"font":"DejaVu Sans","color":"#000000"},"encoding":{"text":{"field":"t"}}}
 ]}
]
}
